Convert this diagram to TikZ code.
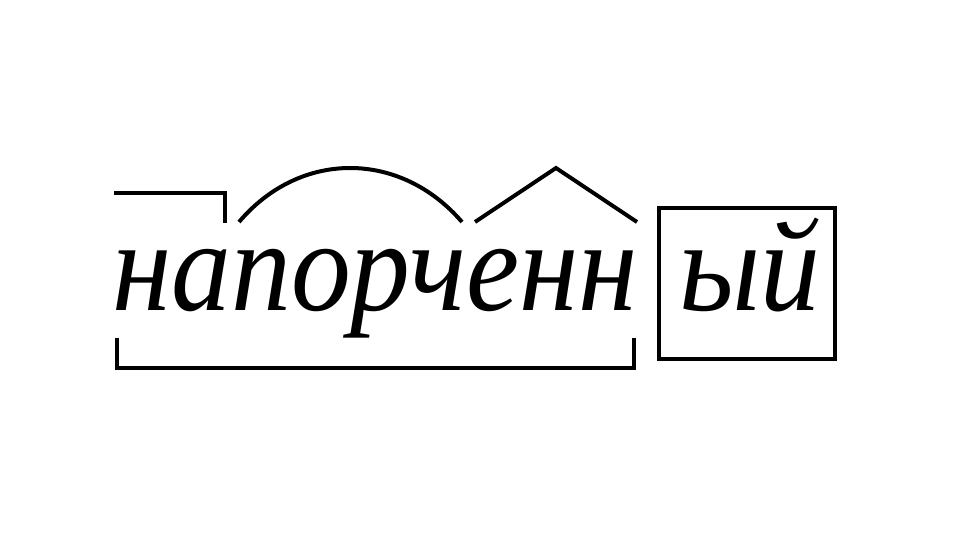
\documentclass[tikz,border=0pt]{standalone}
\usepackage{fontspec}
\setmainfont{Liberation Serif}
\newfontfamily\wordfont[FakeStretch = 0.92]{Liberation Serif Italic}
\usetikzlibrary{calc}
\tikzset{mark line/.style = {line width = 4pt}}
\tikzset{word/.style = {anchor = base west, inner sep = 0pt, font = \fontsize{130}{140}\selectfont\wordfont}}

\begin{document}
\begin{tikzpicture}[x = 1pt, y = -1pt]
\useasboundingbox (0,0) rectangle (960,540);
\node[word] (stem) at (112, 310) {напорченн};
\node[word] (ending) at (679, 310) {ый};
% prefix
\draw[mark line] (114, 193) -- (225, 193) -- (225, 223);
% root
\draw[mark line] (239, 222) .. controls (300, 150) and (400, 150) .. (462, 222);
% suffix
\draw[mark line] (475, 222) -- (556, 168) -- (637, 222);
% ending
\draw[mark line] (659, 208) rectangle (835, 359);
% stem
\draw[mark line] (117, 338) -- (117, 368) -- (634, 368) -- (634, 338);
\end{tikzpicture}
\end{document}
